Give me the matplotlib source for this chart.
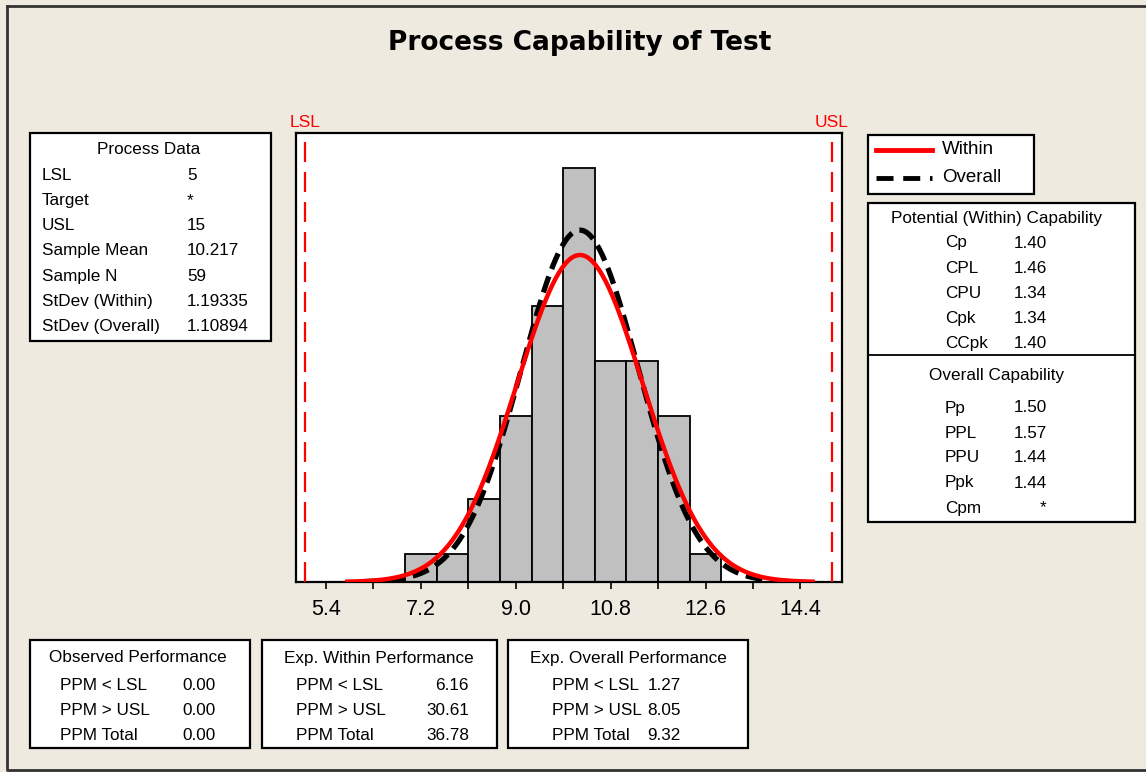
import matplotlib.pyplot as plt
import numpy as np
from matplotlib.lines import Line2D
from matplotlib.patches import Rectangle

# histogram (bin centers, counts)
bin_centers = [7.2, 7.8, 8.4, 9.0, 9.6, 10.2, 10.8, 11.4, 12.0, 12.6]
counts = [1, 1, 3, 6, 10, 15, 8, 8, 6, 1]
bin_width = 0.6

lsl = 5
usl = 15
sample_mean = 10.217
sample_n = 59
sd_within = 1.19335
sd_overall = 1.10894

xtick_vals = [5.4, 7.2, 9.0, 10.8, 12.6, 14.4]

process_labels = ["LSL", "Target", "USL", "Sample Mean", "Sample N",
                  "StDev (Within)", "StDev (Overall)"]
process_values = ["5", "*", "15", "10.217", "59", "1.19335", "1.10894"]

within_labels = ["Cp", "CPL", "CPU", "Cpk", "CCpk"]
within_values = ["1.40", "1.46", "1.34", "1.34", "1.40"]
overall_labels = ["Pp", "PPL", "PPU", "Ppk", "Cpm"]
overall_values = ["1.50", "1.57", "1.44", "1.44", "*"]

perf_labels = ["PPM < LSL", "PPM > USL", "PPM Total"]
observed_ppm = ["0.00", "0.00", "0.00"]
exp_within_ppm = ["6.16", "30.61", "36.78"]
exp_overall_ppm = ["1.27", "8.05", "9.32"]

W, H = 1146, 772
bg = "#EEEAE0"
font = "Liberation Sans"

fig = plt.figure(figsize=(W / 100, H / 100), dpi=100, facecolor=bg)


def fx(px):
    return px / W


def fy(py):
    return 1 - py / H


def box(x0, y0, x1, y1):
    fig.patches.append(Rectangle((fx(x0), fy(y1)), fx(x1) - fx(x0), fy(y0) - fy(y1),
                                 transform=fig.transFigure, facecolor="white",
                                 edgecolor="black", lw=1.6, zorder=1))


def txt(x, y, s, ha="left", size=12.3, **kw):
    fig.text(fx(x), fy(y), s, ha=ha, va="center", fontsize=size, family=font, **kw)


# outer frame
fig.lines.append(Line2D([fx(7), fx(7), fx(1160)], [fy(6), fy(770), fy(770)],
                        transform=fig.transFigure, color="#333333", lw=2))
fig.lines.append(Line2D([fx(7), fx(1160)], [fy(6), fy(6)],
                        transform=fig.transFigure, color="#333333", lw=2))

fig.text(0.506, fy(43), "Process Capability of Test", ha="center", va="center",
         fontsize=19, fontweight="bold", family="DejaVu Sans")

# main histogram axes
ax = fig.add_axes([fx(296), fy(582), fx(842) - fx(296), fy(133) - fy(582)])
ax.set_facecolor("white")
ax.bar(bin_centers, counts, width=bin_width, color="#C0C0C0", edgecolor="black", lw=1.3,
       zorder=2)

xw = np.linspace(sample_mean - 3.7 * sd_within, sample_mean + 3.7 * sd_within, 300)
xo = np.linspace(sample_mean - 3.7 * sd_overall, sample_mean + 3.7 * sd_overall, 300)
scale = sample_n * bin_width


def npdf(x, m, s):
    return np.exp(-0.5 * ((x - m) / s) ** 2) / (s * np.sqrt(2 * np.pi))


ax.plot(xo, scale * npdf(xo, sample_mean, sd_overall), color="black", lw=3.8,
        ls=(0, (3.2, 1.5)), zorder=3)
ax.plot(xw, scale * npdf(xw, sample_mean, sd_within), color="#FF0000", lw=3.2, zorder=4)

for v in (lsl, usl):
    ax.axvline(v, color="#FF0000", lw=1.6, ls=(0, (9, 4.5)), zorder=5)
ax.text(lsl, 16.35, "LSL", color="#FF0000", ha="center", va="bottom", fontsize=12.5,
        family=font)
ax.text(usl, 16.35, "USL", color="#FF0000", ha="center", va="bottom", fontsize=12.5,
        family=font)

ax.set_xlim(4.83, 15.19)
ax.set_ylim(0, 16.25)
ax.set_yticks([])
ax.set_xticks(xtick_vals)
ax.set_xticklabels([f"{v:.1f}" for v in xtick_vals], fontsize=15.5, family=font)
ax.set_xticks([6.3, 8.1, 9.9, 11.7, 13.5], minor=True)
ax.tick_params(axis="x", which="both", direction="out", length=5, width=1.2, pad=7)
for sp in ax.spines.values():
    sp.set_linewidth(1.6)

# process data box
box(30, 133, 271, 341)
txt(149, 150, "Process Data", ha="center")
for i, (lab, val) in enumerate(zip(process_labels, process_values)):
    y = 175 + i * 25.3
    txt(42, y, lab)
    txt(187, y, val)

# legend box
box(868, 135, 1034, 194)
fig.lines.append(Line2D([fx(876), fx(932)], [fy(150), fy(150)], transform=fig.transFigure,
                        color="#FF0000", lw=3.5))
fig.lines.append(Line2D([fx(876), fx(932)], [fy(178), fy(178)], transform=fig.transFigure,
                        color="black", lw=3.5, ls=(0, (3.5, 2))))
txt(942, 150, "Within", size=13.5)
txt(942, 178, "Overall", size=13.5)

# capability box
box(868, 203, 1135, 522)
fig.lines.append(Line2D([fx(868), fx(1135)], [fy(355), fy(355)], transform=fig.transFigure,
                        color="black", lw=1.3))
txt(997, 218, "Potential (Within) Capability", ha="center")
for i, (lab, val) in enumerate(zip(within_labels, within_values)):
    y = 243 + i * 25.2
    txt(945, y, lab)
    txt(1014, y, val)
txt(997, 376, "Overall Capability", ha="center")
for i, (lab, val) in enumerate(zip(overall_labels, overall_values)):
    y = 408 + i * 25
    txt(945, y, lab)
    if val == "*":
        txt(1043, y, val, ha="center")
    else:
        txt(1014, y, val)

# performance boxes
perf = [
    (30, 250, "Observed Performance", 138, 60, 216, observed_ppm),
    (262, 497, "Exp. Within Performance", 379, 296, 469, exp_within_ppm),
    (508, 748, "Exp. Overall Performance", 628, 552, 681, exp_overall_ppm),
]
for x0, x1, title, cx, lx, vx, vals in perf:
    box(x0, 640, x1, 748)
    txt(cx, 658, title, ha="center")
    for i, (lab, val) in enumerate(zip(perf_labels, vals)):
        y = 685 + i * 25.5
        txt(lx, y, lab)
        txt(vx, y, val, ha="right")

fig.savefig("out.png", dpi=100, facecolor=bg)
